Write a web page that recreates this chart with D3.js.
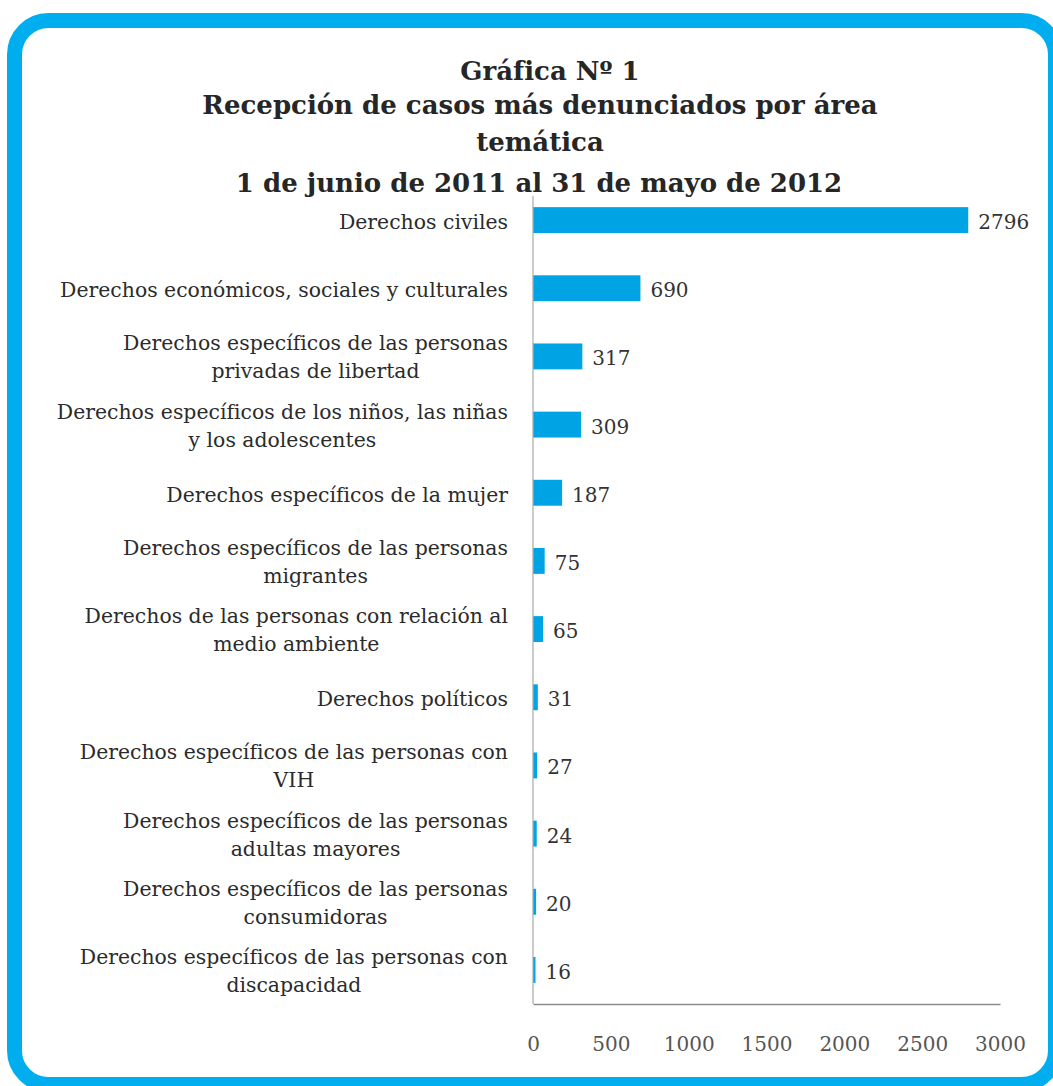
<!DOCTYPE html>
<html lang="es">
<head>
<meta charset="utf-8">
<script src="https://cdn.jsdelivr.net/npm/d3@7"></script>
<style>
  html, body { margin: 0; padding: 0; background: #ffffff; }
  svg { display: block; }
</style>
</head>
<body>
<script>
// Casos recibidos por área temática, 1 jun 2011 – 31 may 2012
const titleLines = [
  "Gráfica Nº 1",
  "Recepción de casos más denunciados por área",
  "temática",
  "1 de junio de 2011 al 31 de mayo de 2012"
];
const categories = [
  "Derechos civiles",
  "Derechos económicos, sociales y culturales",
  "Derechos específicos de las personas\nprivadas de libertad",
  "Derechos específicos de los niños, las niñas\ny los adolescentes",
  "Derechos específicos de la mujer",
  "Derechos específicos de las personas\nmigrantes",
  "Derechos de las personas con relación al\nmedio ambiente",
  "Derechos políticos",
  "Derechos específicos de las personas con\nVIH",
  "Derechos específicos de las personas\nadultas mayores",
  "Derechos específicos de las personas\nconsumidoras",
  "Derechos específicos de las personas con\ndiscapacidad"
];
const values = [2796, 690, 317, 309, 187, 75, 65, 31, 27, 24, 20, 16];
const xTicks = [0, 500, 1000, 1500, 2000, 2500, 3000];

const W = 1053, H = 1086;
const serif = "'DejaVu Serif', 'Liberation Serif', serif";
const barColor = "#00a4e4";
const frameColor = "#00aeef";

const svg = d3.select("body").append("svg")
  .attr("width", W).attr("height", H);

// rounded frame
svg.append("rect")
  .attr("x", 14.5).attr("y", 20.5)
  .attr("width", 1041).attr("height", 1064)
  .attr("rx", 34).attr("ry", 34)
  .attr("fill", "#ffffff")
  .attr("stroke", frameColor)
  .attr("stroke-width", 15);

// title
const titleX = [550, 540, 540, 539];
const titleY = [80, 114, 151, 192];
svg.append("g").selectAll("text")
  .data(titleLines)
  .join("text")
  .attr("x", (d, i) => titleX[i])
  .attr("y", (d, i) => titleY[i])
  .attr("text-anchor", "middle")
  .attr("font-family", serif)
  .attr("font-weight", "bold")
  .attr("font-size", 26)
  .attr("fill", "#262626")
  .text(d => d);

// scales
const x = d3.scaleLinear().domain([0, 3000]).range([533, 1000]);
const y = d3.scaleBand().domain(categories).range([186, 1004])
  .paddingInner(0.62).paddingOuter(0.31);

// bars
svg.append("g").selectAll("rect")
  .data(values)
  .join("rect")
  .attr("x", x(0))
  .attr("y", (d, i) => y(categories[i]))
  .attr("width", d => x(d) - x(0))
  .attr("height", y.bandwidth())
  .attr("fill", barColor);

// value labels
svg.append("g").selectAll("text")
  .data(values)
  .join("text")
  .attr("x", d => x(d) + 10)
  .attr("y", (d, i) => y(categories[i]) + y.bandwidth() / 2 + 2)
  .attr("dominant-baseline", "central")
  .attr("font-family", serif)
  .attr("font-size", 20)
  .attr("fill", "#333333")
  .text(d => d);

// category labels: block right-aligned, lines centred within the block
const labelRight = 508;
const labels = svg.append("g").selectAll("text")
  .data(categories)
  .join("text")
  .attr("font-family", serif)
  .attr("font-size", 20.4)
  .attr("fill", "#2b2b2b")
  .attr("text-anchor", "middle")
  .attr("dominant-baseline", "central");

labels.each(function(d) {
  const t = d3.select(this);
  const lines = d.split("\n");
  const cy = y(d) + y.bandwidth() / 2;
  const spans = lines.map(line => t.append("tspan").text(line));
  const widest = d3.max(spans, s => s.node().getComputedTextLength());
  const cx = labelRight - widest / 2;
  spans.forEach((s, i) => {
    const dy = lines.length === 1 ? 2 : (i === 0 ? -13 : 15);
    s.attr("x", cx).attr("y", cy + dy);
  });
});

// vertical axis line
svg.append("line")
  .attr("x1", x(0)).attr("x2", x(0))
  .attr("y1", 196).attr("y2", 1004)
  .attr("stroke", "#a9a9a9").attr("stroke-width", 1.2);

// bottom axis
const xAxis = svg.append("g")
  .attr("transform", "translate(0,1004)")
  .call(d3.axisBottom(x).tickValues(xTicks).tickSize(0).tickPadding(33).tickFormat(d3.format("d")));
xAxis.select(".domain").attr("stroke", "#8c8c8c").attr("stroke-width", 1.5);
xAxis.selectAll("text")
  .attr("font-family", serif)
  .attr("font-size", 20)
  .attr("fill", "#555555");
</script>
</body>
</html>
